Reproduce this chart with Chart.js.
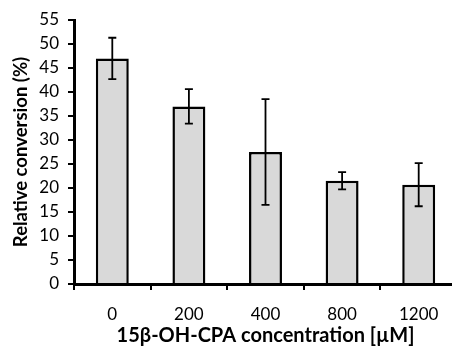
<!DOCTYPE html>
<html>
<head>
<meta charset="utf-8">
<script src="https://cdn.jsdelivr.net/npm/chart.js@4.4.1/dist/chart.umd.min.js"></script>
<style>
  html, body { margin: 0; padding: 0; background: #fff; overflow: hidden; }
  #wrap { width: 452px; height: 348px; overflow: hidden; }
  canvas { display: block; }
</style>
</head>
<body>
<div id="wrap"><canvas id="chart" width="457" height="348"></canvas></div>
<script>
// DATA
const concentrations = ['0', '200', '400', '800', '1200'];
const conversion = [47, 37, 27.5, 21.5, 20.7];
const conversionErr = [4.3, 3.6, 11, 1.8, 4.5];
const yTicks = [0, 5, 10, 15, 20, 25, 30, 35, 40, 45, 50, 55];

// error bars drawn from the scales
const errorBars = {
  id: 'errorBars',
  afterDatasetsDraw(chart) {
    const ctx = chart.ctx;
    const meta = chart.getDatasetMeta(0);
    const y = chart.scales.y;
    ctx.save();
    ctx.strokeStyle = '#000';
    ctx.lineWidth = 1.8;
    meta.data.forEach((bar, i) => {
      const top = y.getPixelForValue(conversion[i] + conversionErr[i]);
      const bot = y.getPixelForValue(conversion[i] - conversionErr[i]);
      ctx.beginPath();
      ctx.moveTo(bar.x, top);
      ctx.lineTo(bar.x, bot);
      ctx.moveTo(bar.x - 4, top);
      ctx.lineTo(bar.x + 4, top);
      ctx.moveTo(bar.x - 4, bot);
      ctx.lineTo(bar.x + 4, bot);
      ctx.stroke();
    });
    ctx.restore();
  }
};

const barCtx = document.getElementById('chart').getContext('2d');
new Chart(barCtx, {
  type: 'bar',
  data: {
    labels: concentrations,
    datasets: [{
      label: 'Relative conversion',
      data: conversion,
      backgroundColor: '#d9d9d9',
      borderColor: '#000',
      borderWidth: 2.5,
      barPercentage: 0.86,
      categoryPercentage: 0.5
    }]
  },
  options: {
    responsive: false,
    animation: false,
    layout: { padding: { top: 20, right: 0, left: 0, bottom: 0 } },
    plugins: {
      legend: { display: false },
      tooltip: { enabled: false }
    },
    scales: {
      x: {
        grid: { drawOnChartArea: false, color: '#000', tickLength: 6, lineWidth: 2 },
        border: { color: '#000', width: 3 },
        ticks: { color: '#000', font: { family: 'Lato', size: 17 }, padding: 14 },
        title: {
          display: true,
          text: '15β-OH-CPA concentration [µM]',
          color: '#000',
          font: { family: 'Lato', size: 20, weight: 'bold' },
          padding: { top: 0, bottom: 0 }
        },
        afterFit(scale) { scale.height = 64; }
      },
      y: {
        min: 0,
        max: 55,
        afterBuildTicks(scale) { scale.ticks = yTicks.map(v => ({ value: v })); },
        grid: { drawOnChartArea: false, color: '#000', tickLength: 6, lineWidth: 2 },
        border: { color: '#000', width: 3 },
        ticks: { color: '#000', font: { family: 'Lato', size: 17 }, padding: 9 },
        title: {
          display: true,
          text: 'Relative conversion (%)',
          color: '#000',
          font: { family: 'Lato', size: 18.5, weight: 'bold' },
          padding: { top: 10, bottom: 0 }
        },
        afterFit(scale) { scale.width = 74; }
      }
    }
  },
  plugins: [errorBars]
});
</script>
</body>
</html>
